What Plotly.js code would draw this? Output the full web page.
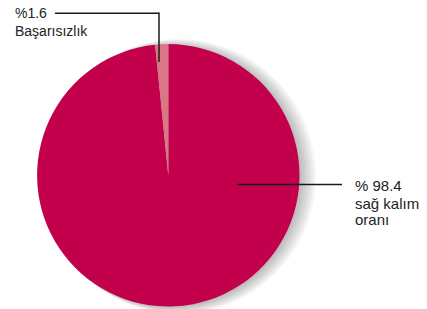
<!DOCTYPE html>
<html>
<head>
<meta charset="utf-8">
<script src="https://cdn.plot.ly/plotly-3.0.1.min.js"></script>
<style>html,body{margin:0;padding:0;background:#fff;}#chart{width:427px;height:309px;}</style>
</head>
<body>
<div id="chart"></div>
<script>
var categories = ["sağ kalım oranı", "Başarısızlık"];
var values = [98.4, 1.6];
var sliceColors = ["#c2004b", "#d97884"];
var labelLines1 = ["%1.6", "Başarısızlık"];
var labelLines2 = ["% 98.4", "sağ kalım", "oranı"];

var W = 427, H = 309;
function px(x){return x / W;}
function py(y){return 1 - y / H;}

var cx = 168.3, cy = 175.3, r = 131.2;

var trace = {
  type: "pie",
  labels: categories,
  values: values,
  marker: {colors: sliceColors, line: {width: 0}},
  sort: false,
  direction: "clockwise",
  rotation: 0,
  textinfo: "none",
  hoverinfo: "none",
  showlegend: false,
  domain: {x: [px(cx - r), px(cx + r)], y: [py(cy + r), py(cy - r)]}
};

var shapes = [];
// soft shadow
for (var i = 0; i < 7; i++) {
  var off = 2 + i * 1.4, rr = r + i * 1.0;
  shapes.push({type: "circle", xref: "paper", yref: "paper", layer: "below",
    x0: px(cx + off - rr), x1: px(cx + off + rr), y0: py(cy + 1 + rr), y1: py(cy + 1 - rr),
    fillcolor: "rgba(0,0,0,0.04)", line: {width: 0}});
}
var lc = "#1a1a1a";
shapes.push({type: "line", xref: "paper", yref: "paper", x0: px(55), x1: px(159), y0: py(13.3), y1: py(13.3), line: {color: lc, width: 1.5}});
shapes.push({type: "line", xref: "paper", yref: "paper", x0: px(159), x1: px(159), y0: py(12.6), y1: py(62), line: {color: lc, width: 1.5}});
shapes.push({type: "line", xref: "paper", yref: "paper", x0: px(237), x1: px(342), y0: py(184.5), y1: py(184.5), line: {color: lc, width: 1.5}});

var font1 = {family: "Liberation Sans, Arial, sans-serif", size: 14, color: "#222"};
var font2 = {family: "Liberation Sans, Arial, sans-serif", size: 15, color: "#222"};
var annotations = [];
var ly1 = [13, 31];
labelLines1.forEach(function(t, k){
  annotations.push({xref: "paper", yref: "paper", x: px(13), y: py(ly1[k]), text: t, showarrow: false, xanchor: "left", yanchor: "middle", font: font1});
});
var ly2 = [185.5, 203, 219.5];
labelLines2.forEach(function(t, k){
  annotations.push({xref: "paper", yref: "paper", x: px(353), y: py(ly2[k]), text: t, showarrow: false, xanchor: "left", yanchor: "middle", font: font2});
});

var layout = {
  width: W, height: H,
  margin: {l: 0, r: 0, t: 0, b: 0},
  paper_bgcolor: "#fff", plot_bgcolor: "#fff",
  shapes: shapes, annotations: annotations
};
Plotly.newPlot("chart", [trace], layout, {displayModeBar: false, staticPlot: true});
</script>
</body>
</html>
